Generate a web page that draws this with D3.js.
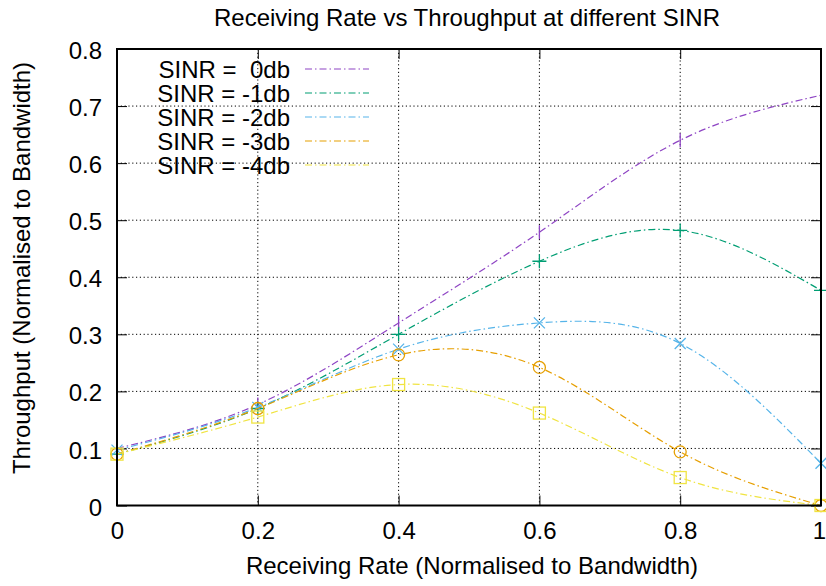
<!DOCTYPE html>
<html>
<head>
<meta charset="utf-8">
<script src="https://cdn.jsdelivr.net/npm/d3@7"></script>
<style>
  html, body { margin: 0; padding: 0; background: #fff; }
  svg { display: block; font-family: "Liberation Sans", Arial, Helvetica, sans-serif; }
  text { white-space: pre; }
</style>
</head>
<body>
<svg id="chart" width="826" height="586"></svg>
<script>
// Receiving rate (normalised to bandwidth) sampled at each point
const rates = [0, 0.2, 0.4, 0.6, 0.8, 1.0];

// Throughput (normalised to bandwidth) per SINR level
const sinr0  = [0.100, 0.177, 0.320, 0.479, 0.640, 0.719];
const sinrM1 = [0.090, 0.170, 0.300, 0.428, 0.482, 0.377];
const sinrM2 = [0.097, 0.172, 0.274, 0.320, 0.284, 0.074];
const sinrM3 = [0.090, 0.170, 0.264, 0.242, 0.094, 0.000];
const sinrM4 = [0.090, 0.155, 0.212, 0.162, 0.049, 0.000];

const seriesNames = ["SINR =  0db", "SINR = -1db", "SINR = -2db", "SINR = -3db", "SINR = -4db"];
const seriesColors = ["#8e44c4", "#009e73", "#56b4e9", "#e69f00", "#f0e442"];
const seriesMarkers = ["bar", "plus", "cross", "circle", "square"];
const seriesValues = [sinr0, sinrM1, sinrM2, sinrM3, sinrM4];

const xTicks = [0, 0.2, 0.4, 0.6, 0.8, 1];
const yTicks = [0, 0.1, 0.2, 0.3, 0.4, 0.5, 0.6, 0.7, 0.8];

const fontSize = 24;
const svg = d3.select("#chart");
const plotLeft = 117, plotRight = 821, plotTop = 49, plotBottom = 505.5;

const x = d3.scaleLinear().domain([0, 1]).range([plotLeft, plotRight]);
const y = d3.scaleLinear().domain([0, 0.8]).range([plotBottom, plotTop]);

// Title
svg.append("text")
  .attr("x", 467).attr("y", 26)
  .attr("text-anchor", "middle")
  .attr("font-size", fontSize)
  .text("Receiving Rate vs Throughput at different SINR");

// Dotted grid
const grid = svg.append("g").attr("stroke", "#000").attr("stroke-width", 1)
  .attr("stroke-dasharray", "1.2,2.6").attr("fill", "none");
xTicks.slice(1, -1).forEach(v => {
  grid.append("line").attr("x1", x(v)).attr("x2", x(v)).attr("y1", plotTop).attr("y2", plotBottom);
});
yTicks.slice(1, -1).forEach(v => {
  grid.append("line").attr("x1", plotLeft).attr("x2", plotRight).attr("y1", y(v)).attr("y2", y(v));
});

// Axes with inward ticks, mirrored on the opposite sides
const tickLen = 10;
svg.append("g").attr("transform", `translate(0,${plotBottom})`)
  .call(d3.axisBottom(x).tickValues(xTicks).tickSize(-tickLen).tickPadding(16)
    .tickFormat(d => d === 1 ? "1" : d3.format("")(d)))
  .call(g => g.select(".domain").remove())
  .call(g => g.selectAll("text").attr("font-size", fontSize).attr("fill", "#000")
    .attr("font-family", "Liberation Sans, Arial, sans-serif"))
  .call(g => g.selectAll("text").filter(d => d === 1).attr("dx", -2))
  .call(g => g.selectAll("line").attr("stroke", "#000"));

svg.append("g").attr("transform", `translate(${plotLeft},0)`)
  .call(d3.axisLeft(y).tickValues(yTicks).tickSize(-tickLen).tickPadding(15)
    .tickFormat(d => d === 0 ? "0" : d3.format(".1f")(d)))
  .call(g => g.select(".domain").remove())
  .call(g => g.selectAll("text").attr("font-size", fontSize).attr("fill", "#000")
    .attr("dy", "0.4em")
    .attr("font-family", "Liberation Sans, Arial, sans-serif"))
  .call(g => g.selectAll("line").attr("stroke", "#000"));

svg.append("g").attr("transform", `translate(0,${plotTop})`)
  .call(d3.axisTop(x).tickValues(xTicks).tickSize(-tickLen).tickFormat(""))
  .call(g => g.select(".domain").remove())
  .call(g => g.selectAll("line").attr("stroke", "#000"));

svg.append("g").attr("transform", `translate(${plotRight},0)`)
  .call(d3.axisRight(y).tickValues(yTicks).tickSize(-tickLen).tickFormat(""))
  .call(g => g.select(".domain").remove())
  .call(g => g.selectAll("line").attr("stroke", "#000"));

// Axis titles
svg.append("text")
  .attr("x", 472).attr("y", 574)
  .attr("text-anchor", "middle")
  .attr("font-size", fontSize)
  .text("Receiving Rate (Normalised to Bandwidth)");

svg.append("text")
  .attr("transform", `translate(30,268) rotate(-90)`)
  .attr("text-anchor", "middle")
  .attr("font-size", fontSize)
  .text("Throughput (Normalised to Bandwidth)");

// Curves (natural cubic splines through the sample points)
const line = d3.line()
  .x(d => x(d[0]))
  .y(d => y(d[1]))
  .curve(d3.curveNatural);

const dash = "7,3,1.5,3";
const plot = svg.append("g");

function drawMarker(g, type, cx, cy, color) {
  const s = 7;
  if (type === "bar") {
    g.append("line").attr("x1", cx).attr("x2", cx).attr("y1", cy - s).attr("y2", cy + s)
      .attr("stroke", color).attr("stroke-width", 1.3);
  } else if (type === "plus") {
    g.append("path").attr("d", `M${cx - s},${cy}H${cx + s}M${cx},${cy - s}V${cy + s}`)
      .attr("stroke", color).attr("stroke-width", 1.3).attr("fill", "none");
  } else if (type === "cross") {
    const c = 5.5;
    g.append("path").attr("d", `M${cx - c},${cy - c}L${cx + c},${cy + c}M${cx - c},${cy + c}L${cx + c},${cy - c}`)
      .attr("stroke", color).attr("stroke-width", 1.3).attr("fill", "none");
  } else if (type === "circle") {
    g.append("circle").attr("cx", cx).attr("cy", cy).attr("r", 6)
      .attr("stroke", color).attr("stroke-width", 1.3).attr("fill", "none");
  } else if (type === "square") {
    g.append("rect").attr("x", cx - 6).attr("y", cy - 6).attr("width", 12).attr("height", 12)
      .attr("stroke", color).attr("stroke-width", 1.3).attr("fill", "none");
  }
}

seriesValues.forEach((vals, i) => {
  const pts = rates.map((r, j) => [r, vals[j]]);
  plot.append("path")
    .attr("d", line(pts))
    .attr("fill", "none")
    .attr("stroke", seriesColors[i])
    .attr("stroke-width", 1.2)
    .attr("stroke-dasharray", dash);
  const mg = plot.append("g");
  pts.forEach(p => drawMarker(mg, seriesMarkers[i], x(p[0]), y(p[1]), seriesColors[i]));
});

// Legend
const legend = svg.append("g");
seriesNames.forEach((name, i) => {
  const ly = 69 + i * 24;
  legend.append("text")
    .attr("x", 290).attr("y", ly)
    .attr("dy", "0.36em")
    .attr("text-anchor", "end")
    .attr("font-size", fontSize)
    .text(name);
  legend.append("line")
    .attr("x1", 305).attr("x2", 369).attr("y1", ly).attr("y2", ly)
    .attr("stroke", seriesColors[i])
    .attr("stroke-width", 1.2)
    .attr("stroke-dasharray", dash);
});

// Plot border
svg.append("rect")
  .attr("x", plotLeft).attr("y", plotTop)
  .attr("width", plotRight - plotLeft).attr("height", plotBottom - plotTop)
  .attr("fill", "none").attr("stroke", "#000").attr("stroke-width", 2);
</script>
</body>
</html>
